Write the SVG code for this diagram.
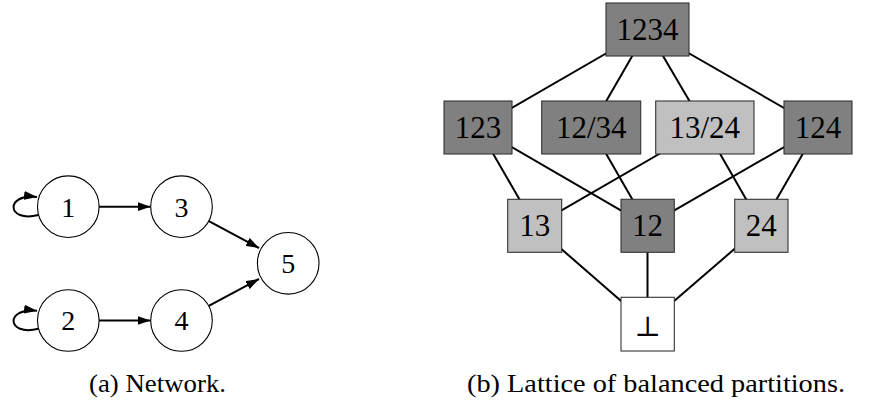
<svg xmlns="http://www.w3.org/2000/svg" width="872" height="406" viewBox="0 0 872 406">
<style>
.bg{fill:#ffffff}
.node circle{fill:#ffffff;stroke:#000;stroke-width:1.1}
.lbl{font-family:"Liberation Serif","DejaVu Serif",serif;fill:#000;text-anchor:middle}
.cl{font-size:28px}
.bl{font-size:31px}
.box rect{stroke:#333;stroke-width:1.1}
.dark{fill:#808080}
.light{fill:#c0c0c0}
.white{fill:#ffffff}
.edge{stroke:#000;stroke-width:2;fill:none}
.cap{font-family:"Liberation Serif","DejaVu Serif",serif;font-size:25px;fill:#000}
</style>
<defs>
<marker id="arr" markerUnits="userSpaceOnUse" markerWidth="14" markerHeight="10" refX="13" refY="5" orient="auto">
<path d="M0,0.5 L13,5 L0,9.5 z" fill="#000"/>
</marker>
</defs>
<rect class="bg" width="872" height="406"/>

<g id="connectors">
<line class="edge" x1="99" y1="206.7" x2="150.5" y2="206.7" marker-end="url(#arr)"/>
<line class="edge" x1="99" y1="320.5" x2="150.5" y2="320.5" marker-end="url(#arr)"/>
<line class="edge" x1="208.9" y1="221.2" x2="259" y2="248" marker-end="url(#arr)"/>
<line class="edge" x1="208.8" y1="305.9" x2="259" y2="279" marker-end="url(#arr)"/>
<path class="edge" d="M38.5,215 C6,223 5,193 37,197" marker-end="url(#arr)"/>
<path class="edge" d="M38.5,328.8 C6,336.8 5,306.8 37,310.8" marker-end="url(#arr)"/>

<line class="edge" x1="647.5" y1="29.5" x2="478" y2="127.5"/>
<line class="edge" x1="647.5" y1="29.5" x2="591" y2="127.5"/>
<line class="edge" x1="647.5" y1="29.5" x2="705" y2="127.5"/>
<line class="edge" x1="647.5" y1="29.5" x2="818" y2="127.5"/>
<line class="edge" x1="478" y1="127.5" x2="534.7" y2="225.8"/>
<line class="edge" x1="478" y1="127.5" x2="647.5" y2="225.8"/>
<line class="edge" x1="591" y1="127.5" x2="647.5" y2="225.8"/>
<line class="edge" x1="705" y1="127.5" x2="534.7" y2="225.8"/>
<line class="edge" x1="705" y1="127.5" x2="761.3" y2="225.8"/>
<line class="edge" x1="818" y1="127.5" x2="647.5" y2="225.8"/>
<line class="edge" x1="818" y1="127.5" x2="761.3" y2="225.8"/>
<line class="edge" x1="534.7" y1="225.8" x2="647.5" y2="324"/>
<line class="edge" x1="647.5" y1="225.8" x2="647.5" y2="324"/>
<line class="edge" x1="761.3" y1="225.8" x2="647.5" y2="324"/>
</g>

<g id="n1" class="node"><circle cx="68.3" cy="206.7" r="30.8"/><text class="lbl cl" x="68.3" y="216.5">1</text></g>
<g id="n3" class="node"><circle cx="181.5" cy="206.7" r="30.8"/><text class="lbl cl" x="181.5" y="216.5">3</text></g>
<g id="n5" class="node"><circle cx="288.2" cy="263.3" r="30.8"/><text class="lbl cl" x="288.2" y="273">5</text></g>
<g id="n2" class="node"><circle cx="68.3" cy="320.5" r="30.8"/><text class="lbl cl" x="68.3" y="330.2">2</text></g>
<g id="n4" class="node"><circle cx="181.5" cy="320.5" r="30.8"/><text class="lbl cl" x="181.5" y="330.2">4</text></g>

<g id="p1234" class="box"><rect class="dark" x="606" y="3" width="83" height="53"/><text class="lbl bl" x="647.5" y="40">1234</text></g>
<g id="p123" class="box"><rect class="dark" x="444" y="101" width="68" height="53"/><text class="lbl bl" x="478" y="138">123</text></g>
<g id="p12_34" class="box"><rect class="dark" x="541.7" y="101" width="99" height="53"/><text class="lbl bl" x="591.2" y="138">12/34</text></g>
<g id="p13_24" class="box"><rect class="light" x="655.7" y="101" width="98.3" height="53"/><text class="lbl bl" x="704.8" y="138">13/24</text></g>
<g id="p124" class="box"><rect class="dark" x="784" y="101" width="68" height="53"/><text class="lbl bl" x="818" y="138">124</text></g>
<g id="p13" class="box"><rect class="light" x="507.7" y="199.3" width="54" height="53"/><text class="lbl bl" x="534.7" y="236.3">13</text></g>
<g id="p12" class="box"><rect class="dark" x="621" y="199.3" width="53.3" height="53"/><text class="lbl bl" x="647.6" y="236.3">12</text></g>
<g id="p24" class="box"><rect class="light" x="734.7" y="199.3" width="53.3" height="53"/><text class="lbl bl" x="761.3" y="236.3">24</text></g>
<g id="pbot" class="box"><rect class="white" x="621" y="297.3" width="53.3" height="53.7"/><text class="lbl bl" x="647.6" y="336" style="font-family:'DejaVu Serif','DejaVu Sans',serif;font-size:28px">⊥</text></g>

<text class="cap" x="89" y="392" textLength="137" lengthAdjust="spacingAndGlyphs">(a) Network.</text>
<text class="cap" x="467" y="392" textLength="378" lengthAdjust="spacingAndGlyphs">(b) Lattice of balanced partitions.</text>
</svg>
